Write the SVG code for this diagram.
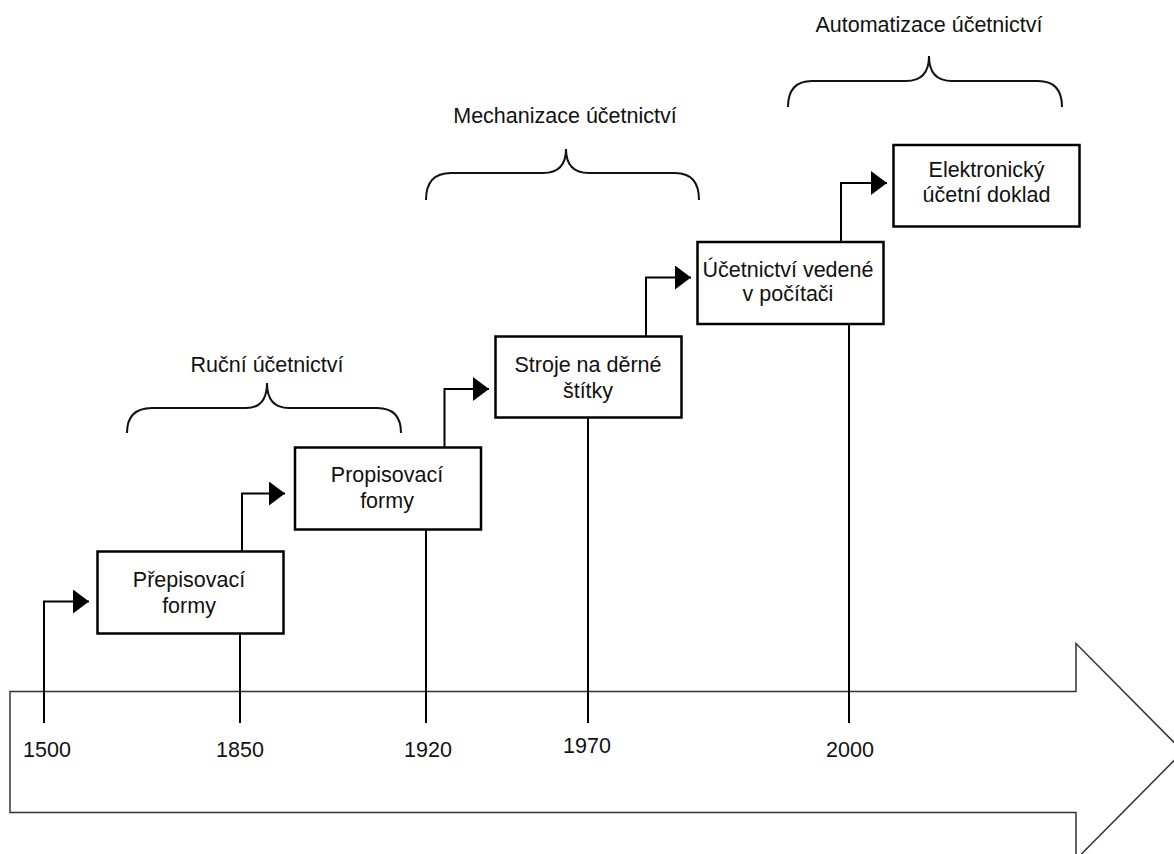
<svg xmlns="http://www.w3.org/2000/svg" width="1174" height="854" viewBox="0 0 1174 854">
<defs>
<marker id="ah" markerUnits="userSpaceOnUse" markerWidth="16" markerHeight="24" refX="16" refY="12" orient="auto">
<path d="M0,0 L16,12 L0,24 z" fill="#000"/>
</marker>
<style>
.box{fill:#fff;stroke:#000;stroke-width:2.5}
.t{font-family:"Liberation Sans",Arial,sans-serif;font-size:21.5px;fill:#111;text-anchor:middle}
.c{fill:none;stroke:#000;stroke-width:2}
.a{fill:none;stroke:#000;stroke-width:2;marker-end:url(#ah)}
.br{fill:none;stroke:#111;stroke-width:2}
.tl{fill:#fff;stroke:#333;stroke-width:1.5}
</style>
</defs>
<rect width="1174" height="854" fill="#fff"/>
<g id="timeline">
<path class="tl" d="M10,691.5 L1076,691.5 L1076,643.5 L1183,751.5 L1076,859.5 L1076,812.5 L10,812.5 Z"/>
<text class="t" x="47" y="757">1500</text>
<text class="t" x="240" y="757">1850</text>
<text class="t" x="428" y="757">1920</text>
<text class="t" x="587" y="753">1970</text>
<text class="t" x="850" y="757">2000</text>
</g>
<g id="connectors">
<path class="a" d="M44,723 L44,601.5 L89,601.5"/>
<path class="c" d="M240,723 L240,633"/>
<path class="a" d="M242,552 L242,493.5 L285,493.5"/>
<path class="c" d="M426,723 L426,529"/>
<path class="a" d="M444.5,448 L444.5,389 L489,389"/>
<path class="c" d="M588,723 L588,417"/>
<path class="a" d="M646,337 L646,277.5 L691,277.5"/>
<path class="c" d="M849,723 L849,324"/>
<path class="a" d="M841,242 L841,183 L887,183"/>
</g>
<g id="box1">
<rect class="box" x="97.5" y="551.5" width="186" height="82"/>
<text class="t" x="189" y="587">Přepisovací</text>
<text class="t" x="189" y="613">formy</text>
</g>
<g id="box2">
<rect class="box" x="295" y="447.5" width="186" height="82"/>
<text class="t" x="387" y="482">Propisovací</text>
<text class="t" x="387" y="508">formy</text>
</g>
<g id="box3">
<rect class="box" x="495.5" y="336.5" width="186" height="81"/>
<text class="t" x="588" y="372">Stroje na děrné</text>
<text class="t" x="588" y="398">štítky</text>
</g>
<g id="box4">
<rect class="box" x="697.5" y="242" width="186" height="82"/>
<text class="t" x="788" y="277">Účetnictví vedené</text>
<text class="t" x="788" y="301">v počítači</text>
</g>
<g id="box5">
<rect class="box" x="893.5" y="145" width="186" height="81.5"/>
<text class="t" x="986.5" y="177">Elektronický</text>
<text class="t" x="986.5" y="202">účetní doklad</text>
</g>
<g id="brace1">
<path class="br" d="M127,433 Q127,408 152,408 L246,408 Q267,408 267,383 Q267,408 289,408 L377,408 Q401,408 401,433"/>
<text class="t" x="267" y="372">Ruční účetnictví</text>
</g>
<g id="brace2">
<path class="br" d="M426,200 Q426,173 451,173 L543,173 Q566,173 566,149 Q566,173 589,173 L675,173 Q699,173 699,200"/>
<text class="t" x="565" y="123">Mechanizace účetnictví</text>
</g>
<g id="brace3">
<path class="br" d="M788,107 Q788,81 812,81 L906,81 Q929,81 929,56 Q929,81 952,81 L1038,81 Q1062,81 1062,107"/>
<text class="t" x="929" y="32">Automatizace účetnictví</text>
</g>
</svg>
